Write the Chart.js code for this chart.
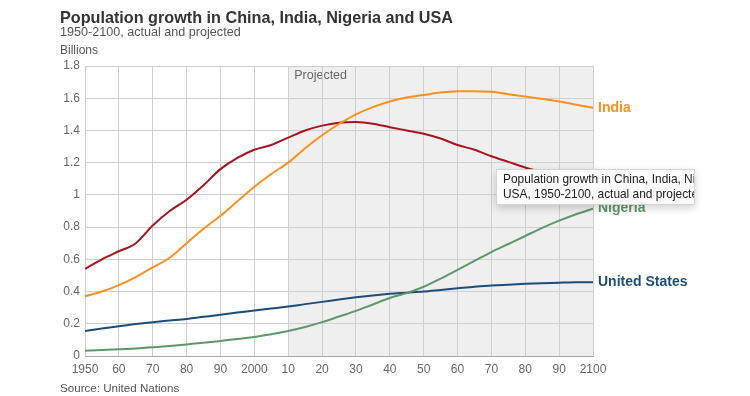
<!DOCTYPE html>
<html lang="en">
<head>
  <meta charset="UTF-8" />
  <title>Population growth in China, India, Nigeria and USA</title>
  <script src="https://cdn.jsdelivr.net/npm/chart.js"></script>
  <style>
    body {
      margin: 0;
      background: #ffffff;
      font-family: "Liberation Sans", Arial, sans-serif;
    }

    .wrap {
      position: relative;
      width: 750px;
      height: 396px;
      overflow: hidden;
    }

    .wrap canvas {
      position: absolute;
      left: 0;
      top: 0;
    }

    .txt {
      position: absolute;
      left: 60px;
      white-space: nowrap;
    }

    h1 {
      margin: 0;
      top: 8px;
      font-size: 16.2px;
      font-weight: 700;
      color: #333;
    }

    .sub { top: 25px; font-size: 12.6px; color: #555; }
    .unit { top: 43px; font-size: 12px; color: #555; }
    .source { top: 381px; font-size: 11.6px; color: #555; }

    .tip {
      position: absolute;
      left: 496px;
      top: 169px;
      width: 191px;
      height: 31px;
      padding: 2px 0 1px 6px;
      background: #fbfbfb;
      border: 1px solid #d4d4d4;
      box-shadow: 0 3px 8px rgba(0, 0, 0, 0.18);
      font-size: 11.9px;
      line-height: 15px;
      color: #222;
      white-space: nowrap;
      overflow: hidden;
    }
  </style>
</head>
<body>
  <div class="wrap">
    <canvas id="popChart" width="750" height="396"></canvas>
    <h1 class="txt">Population growth in China, India, Nigeria and USA</h1>
    <div class="txt sub">1950-2100, actual and projected</div>
    <div class="txt unit">Billions</div>
    <div class="txt source">Source: United Nations</div>
    <div class="tip">Population growth in China, India, Nigeria and<br>USA, 1950-2100, actual and projected</div>
  </div>

  <script>
    // values in billions, every 5 years
    const years = [1950, 1955, 1960, 1965, 1970, 1975, 1980, 1985, 1990, 1995, 2000, 2005, 2010, 2015, 2020, 2025,
      2030, 2035, 2040, 2045, 2050, 2055, 2060, 2065, 2070, 2075, 2080, 2085, 2090, 2095, 2100];

    const china = [0.54, 0.60, 0.65, 0.70, 0.81, 0.90, 0.97, 1.06, 1.16, 1.23, 1.28, 1.31, 1.355, 1.40, 1.43, 1.448,
      1.452, 1.442, 1.42, 1.40, 1.38, 1.35, 1.31, 1.28, 1.24, 1.205, 1.17, 1.14, 1.11, 1.08, 1.05];
    const india = [0.37, 0.40, 0.44, 0.49, 0.55, 0.61, 0.70, 0.79, 0.87, 0.96, 1.05, 1.13, 1.20, 1.29, 1.37, 1.44,
      1.50, 1.545, 1.58, 1.605, 1.62, 1.635, 1.643, 1.644, 1.64, 1.625, 1.61, 1.595, 1.58, 1.56, 1.54];
    const nigeria = [0.033, 0.037, 0.042, 0.047, 0.054, 0.062, 0.072, 0.082, 0.093, 0.106, 0.118, 0.135, 0.155, 0.18,
      0.21, 0.245, 0.28, 0.32, 0.36, 0.39, 0.43, 0.48, 0.535, 0.59, 0.645, 0.695, 0.745, 0.795, 0.84, 0.88, 0.915];
    const usa = [0.155, 0.17, 0.185, 0.198, 0.21, 0.22, 0.23, 0.243, 0.256, 0.27, 0.282, 0.295, 0.307, 0.322, 0.336,
      0.35, 0.364, 0.376, 0.386, 0.393, 0.40, 0.41, 0.42, 0.43, 0.437, 0.443, 0.448, 0.452, 0.455, 0.457, 0.457];

    const xTickLabels = ["1950", "60", "70", "80", "90", "2000", "10", "20", "30", "40", "50", "60", "70", "80", "90", "2100"];
    const yTickLabels = ["0", "0.2", "0.4", "0.6", "0.8", "1", "1.2", "1.4", "1.6", "1.8"];
    const projectedFrom = 2010;

    const FONT = "'Liberation Sans', Arial, sans-serif";

    function series(label, values, color, endLabel) {
      return {
        label,
        endLabel,
        data: years.map((y, i) => ({ x: y, y: values[i] })),
        borderColor: color,
        borderWidth: 2,
        pointRadius: 0,
        cubicInterpolationMode: "monotone",
        fill: false
      };
    }

    // grey "Projected" band behind the grid
    const projectedBand = {
      id: "projectedBand",
      beforeDraw(chart) {
        const { ctx, chartArea, scales } = chart;
        const x0 = scales.x.getPixelForValue(projectedFrom);
        ctx.save();
        ctx.fillStyle = "#efefef";
        ctx.fillRect(x0, chartArea.top, chartArea.right - x0, chartArea.bottom - chartArea.top);
        ctx.fillStyle = "#666";
        ctx.font = "12.5px " + FONT;
        ctx.textBaseline = "middle";
        ctx.fillText("Projected", x0 + 6, chartArea.top + 10);
        ctx.restore();
      }
    };

    // country names at the end of each line
    const endLabels = {
      id: "endLabels",
      afterDatasetsDraw(chart) {
        const { ctx, chartArea, scales } = chart;
        ctx.save();
        ctx.font = "bold 14px " + FONT;
        ctx.textBaseline = "middle";
        chart.data.datasets.forEach(ds => {
          if (!ds.endLabel) return;
          const last = ds.data[ds.data.length - 1];
          ctx.fillStyle = ds.borderColor;
          ctx.fillText(ds.endLabel, chartArea.right + 5, scales.y.getPixelForValue(last.y));
        });
        ctx.restore();
      }
    };

    new Chart(document.getElementById("popChart"), {
      type: "line",
      data: {
        datasets: [
          series("India", india, "#ff8f1c", "India"),
          series("China", china, "#a8131e", null),
          series("Nigeria", nigeria, "#5e9868", "Nigeria"),
          series("United States", usa, "#1b4d78", "United States")
        ]
      },
      options: {
        responsive: false,
        animation: false,
        events: [],
        layout: { padding: { top: 66, right: 157, bottom: 16, left: 0 } },
        plugins: {
          legend: { display: false },
          title: { display: false },
          tooltip: { enabled: false }
        },
        scales: {
          x: {
            type: "linear",
            min: 1950,
            max: 2100,
            afterFit: s => { s.height = 24; },
            afterBuildTicks: s => {
              s.ticks = xTickLabels.map((t, i) => ({ value: 1950 + i * 10 }));
            },
            ticks: {
              autoSkip: false,
              maxRotation: 0,
              padding: 6,
              color: "#666",
              font: { family: FONT, size: 12 },
              callback: (v, i) => xTickLabels[i]
            },
            grid: { color: "#cfcfcf", drawTicks: false },
            border: { color: "#a8a8a8", width: 1 }
          },
          y: {
            min: 0,
            max: 1.8,
            afterFit: s => { s.width = 85; },
            afterBuildTicks: s => {
              s.ticks = yTickLabels.map((t, i) => ({ value: i * 0.2 }));
            },
            ticks: {
              padding: 5,
              color: "#666",
              font: { family: FONT, size: 12 },
              callback: (v, i) => yTickLabels[i]
            },
            grid: { color: "#cfcfcf", drawTicks: false },
            border: { display: false }
          }
        }
      },
      plugins: [projectedBand, endLabels]
    });
  </script>
</body>
</html>
